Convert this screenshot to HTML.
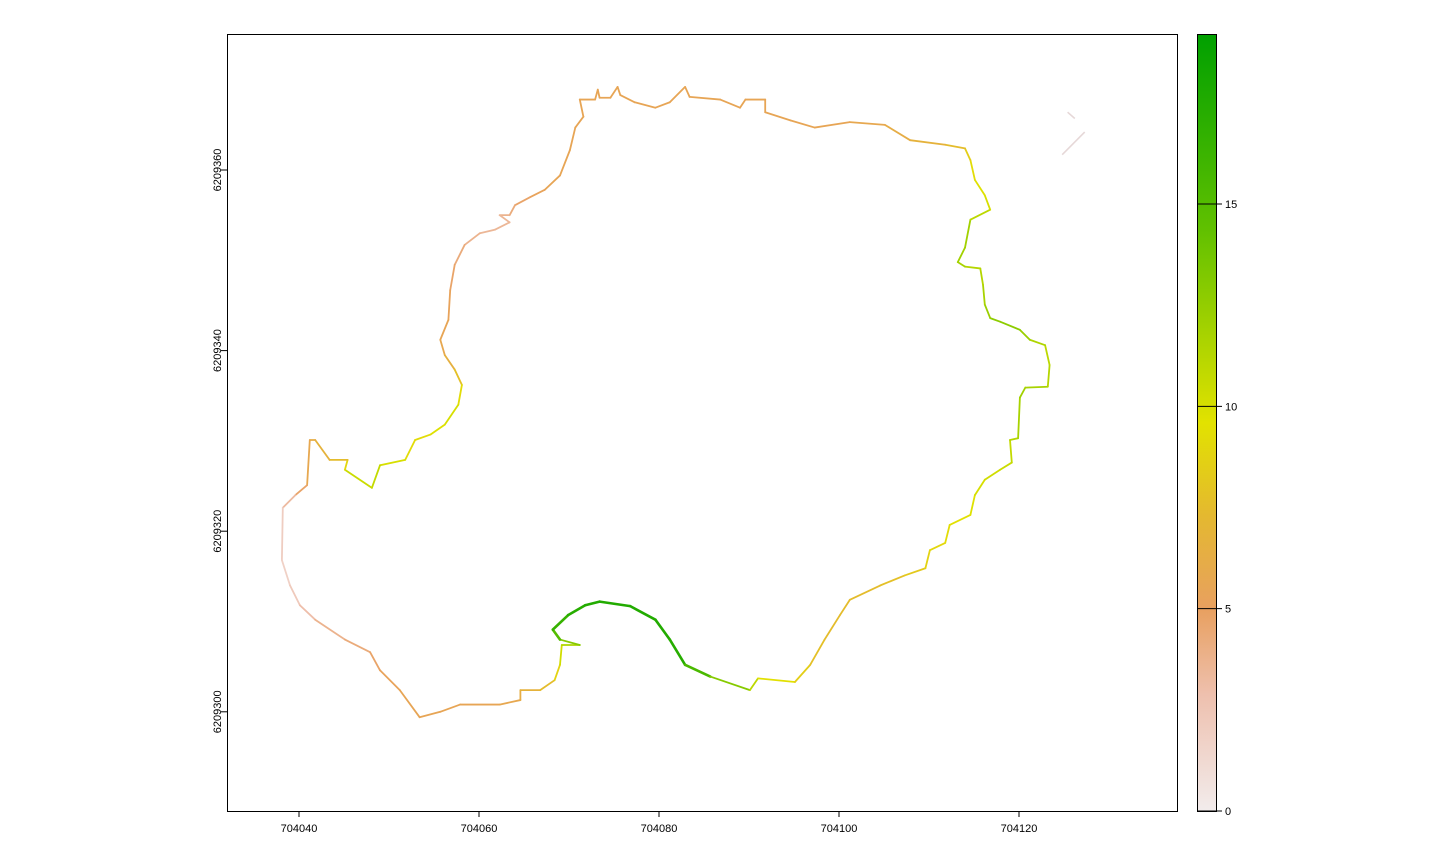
<!DOCTYPE html>
<html><head><meta charset="utf-8"><style>
html,body{margin:0;padding:0;background:#fff;}
svg{display:block;font-family:"Liberation Sans",Arial,sans-serif;}
</style></head><body>
<svg id="chart" width="1439" height="846" viewBox="0 0 1439 846">
<defs>
<linearGradient id="lg" x1="0" y1="1" x2="0" y2="0">
<stop offset="0" stop-color="#F2ECEC"/>
<stop offset="0.15" stop-color="#EEC0AE"/>
<stop offset="0.26" stop-color="#E8A060"/>
<stop offset="0.38" stop-color="#E4B830"/>
<stop offset="0.5" stop-color="#E2E200"/>
<stop offset="0.75" stop-color="#60C000"/>
<stop offset="1" stop-color="#00A000"/>
</linearGradient>
</defs>
<rect x="227.5" y="34.5" width="950" height="777" fill="none" stroke="#000" stroke-width="1"/>
<g id="marks"></g>
<g id="axes"></g>
<rect x="1197.5" y="34.5" width="19" height="777" fill="url(#lg)" stroke="#000" stroke-width="1"/>
<g id="legend"></g>
</svg>
<script>
const xTicks = [704040, 704060, 704080, 704100, 704120];
const yTicks = [6209300, 6209320, 6209340, 6209360];
const legendTicks = [0, 5, 10, 15];
const legendMax = 19.2;
const eastings = [71.2,71.6,70.7,70.1,69.0,67.3,65.7,64.0,63.4,62.3,63.4,61.8,60.1,58.4,57.3,56.8,56.6,55.7,56.2,57.3,58.1,57.7,56.2,54.6,52.9,51.8,49.0,48.1,45.1,45.4,43.4,41.8,41.2,40.9,39.6,38.2,38.1,39.0,40.1,41.8,45.1,47.9,49.0,51.2,53.4,55.7,57.9,62.3,64.6,64.6,66.8,68.4,69.0,69.2,71.2,69.0,68.2,69.9,71.8,73.4,76.8,79.6,81.2,82.9,85.7,90.1,91.0,95.1,96.8,98.4,100.1,101.2,104.6,107.3,109.6,110.1,111.8,112.3,114.6,115.1,116.2,117.9,119.2,119.0,119.9,120.1,120.7,123.2,123.4,122.9,121.2,120.1,117.9,116.8,116.2,116.0,115.7,114.0,113.2,114.0,114.6,116.8,116.2,115.1,114.6,114.0,111.8,107.9,105.1,101.2,97.3,94.6,91.8,91.8,89.6,89.0,86.8,83.4,82.9,81.2,79.6,77.3,75.7,75.4,74.6,73.4,73.2,72.9,71.2];
const northings = [367.8,365.9,364.7,362.2,359.4,357.8,357.0,356.1,355.0,355.0,354.2,353.4,353.0,351.7,349.5,346.7,343.4,341.2,339.5,337.9,336.2,334.0,331.8,330.7,330.1,327.9,327.3,324.8,326.8,327.9,327.9,330.1,330.1,325.1,324.0,322.6,316.8,314.0,311.8,310.2,308.0,306.6,304.6,302.4,299.4,300.0,300.8,300.8,301.3,302.4,302.4,303.5,305.2,307.4,307.4,308.0,309.1,310.7,311.8,312.2,311.7,310.2,308.0,305.2,303.9,302.4,303.7,303.3,305.2,308.0,310.7,312.4,314.0,315.1,315.9,317.9,318.7,320.7,321.8,324.0,325.7,326.8,327.6,330.1,330.3,334.8,335.9,336.0,338.4,340.6,341.2,342.3,343.2,343.6,345.1,347.3,349.1,349.3,349.8,351.4,354.5,355.6,357.2,358.9,361.1,362.4,362.8,363.3,365.0,365.3,364.7,365.5,366.4,367.8,367.8,366.9,367.8,368.1,369.2,367.5,366.9,367.5,368.3,369.2,368.0,368.0,368.9,367.8,367.8];
const values = [5.5,5.5,5.5,5.5,5.5,5.5,5,4.5,4,3.5,3.5,3.5,3.5,4,4.5,5,5.5,5.5,6,7,8.5,10,10,9.5,9,9.5,10.5,11,10,8,7,6.5,6,5.5,4,2.5,1.5,2,2.5,3.5,4,4.5,5,5.5,5.5,5.5,5.5,5.5,6,6.5,7,8,9.5,11,12,14,16,17,17.5,17.5,17.5,17.5,17.5,17,14,12,10,9,8,7.5,7.5,7.5,7.5,8,8.5,9,9,9.5,9.5,10,10,10.5,10.5,11,11.5,12,12,11.5,11,11,12,12.5,13,12.5,12,11.5,11,11.5,12,12,12,10,10,9.5,9,8,7,6.5,6,5.5,5.5,5.5,5.5,5.5,5.5,5.5,5.5,5.5,5.5,5.5,5.5,5.5,5.5,5.5,5.5,5.5,5.5,5.5,5.5,5.5,5.5];
const speckX = [[125.4,126.2],[124.8,127.3]];
const speckY = [[6209366.4,6209365.7],[6209361.7,6209364.2]];
const speckVal = [0.5,0.5];

const NS='http://www.w3.org/2000/svg';
function sx(v){return 299+(v-704040)*9.0;}
function sy(v){return 170-(v-6209360)*9.03;}
function ly(v){return 811-v*(777/legendMax);}
const stops=[[0,[242,236,236]],[0.15,[238,192,174]],[0.26,[232,160,96]],[0.38,[228,184,48]],[0.5,[226,226,0]],[0.75,[96,192,0]],[1,[0,160,0]]];
function col(v){let f=Math.max(0,Math.min(1,v/legendMax));for(let i=1;i<stops.length;i++){if(f<=stops[i][0]){const a=stops[i-1],b=stops[i];const t=(f-a[0])/(b[0]-a[0]);const c=a[1].map((x,k)=>Math.round(x+(b[1][k]-x)*t));return 'rgb('+c.join(',')+')';}}return 'rgb(0,160,0)';}
function valAt(i){let k=Math.min(i,values.length-1);return values[k];}
const marks=document.getElementById('marks');
for(let i=0;i<eastings.length-1;i++){
  const l=document.createElementNS(NS,'line');
  l.setAttribute('x1',sx(704000+eastings[i]));l.setAttribute('y1',sy(6209000+northings[i]));
  l.setAttribute('x2',sx(704000+eastings[i+1]));l.setAttribute('y2',sy(6209000+northings[i+1]));
  const v=(valAt(i)+valAt(i+1))/2;
  l.setAttribute('stroke',col(v));l.setAttribute('stroke-width',v>14?2.6:1.8);l.setAttribute('stroke-linecap','round');
  
  
  marks.appendChild(l);
}
for(let i=0;i<speckX.length;i++){
  const l=document.createElementNS(NS,'line');
  l.setAttribute('x1',sx(704000+speckX[i][0]));l.setAttribute('y1',sy(speckY[i][0]));
  l.setAttribute('x2',sx(704000+speckX[i][1]));l.setAttribute('y2',sy(speckY[i][1]));
  l.setAttribute('stroke','#E6D8D8');l.setAttribute('stroke-width',1.6);
  
  
  marks.appendChild(l);
}
const axes=document.getElementById('axes');
xTicks.forEach(t=>{
  const x=sx(t);
  const l=document.createElementNS(NS,'line');
  l.setAttribute('x1',x);l.setAttribute('x2',x);l.setAttribute('y1',811);l.setAttribute('y2',817);l.setAttribute('stroke','#000');
  
  
  axes.appendChild(l);
  const tx=document.createElementNS(NS,'text');
  tx.setAttribute('x',x);tx.setAttribute('y',832);tx.setAttribute('text-anchor','middle');tx.setAttribute('font-size','11');
  tx.textContent=t;
  
  
  axes.appendChild(tx);
});
yTicks.forEach(t=>{
  const y=sy(t);
  const l=document.createElementNS(NS,'line');
  l.setAttribute('x1',221);l.setAttribute('x2',227);l.setAttribute('y1',y);l.setAttribute('y2',y);l.setAttribute('stroke','#000');
  
  
  axes.appendChild(l);
  const tx=document.createElementNS(NS,'text');
  tx.setAttribute('transform','translate(221,'+y+') rotate(-90)');tx.setAttribute('text-anchor','middle');tx.setAttribute('font-size','11');
  tx.textContent=t;
  
  
  axes.appendChild(tx);
});
const lg=document.getElementById('legend');
legendTicks.forEach(t=>{
  const y=ly(t);
  const l=document.createElementNS(NS,'line');
  l.setAttribute('x1',1197);l.setAttribute('x2',1222);l.setAttribute('y1',y);l.setAttribute('y2',y);l.setAttribute('stroke','#000');
  
  
  lg.appendChild(l);
  const tx=document.createElementNS(NS,'text');
  tx.setAttribute('x',1225);tx.setAttribute('y',y+4);tx.setAttribute('font-size','11');
  tx.textContent=t;
  
  
  lg.appendChild(tx);
});
</script>
</body></html>
